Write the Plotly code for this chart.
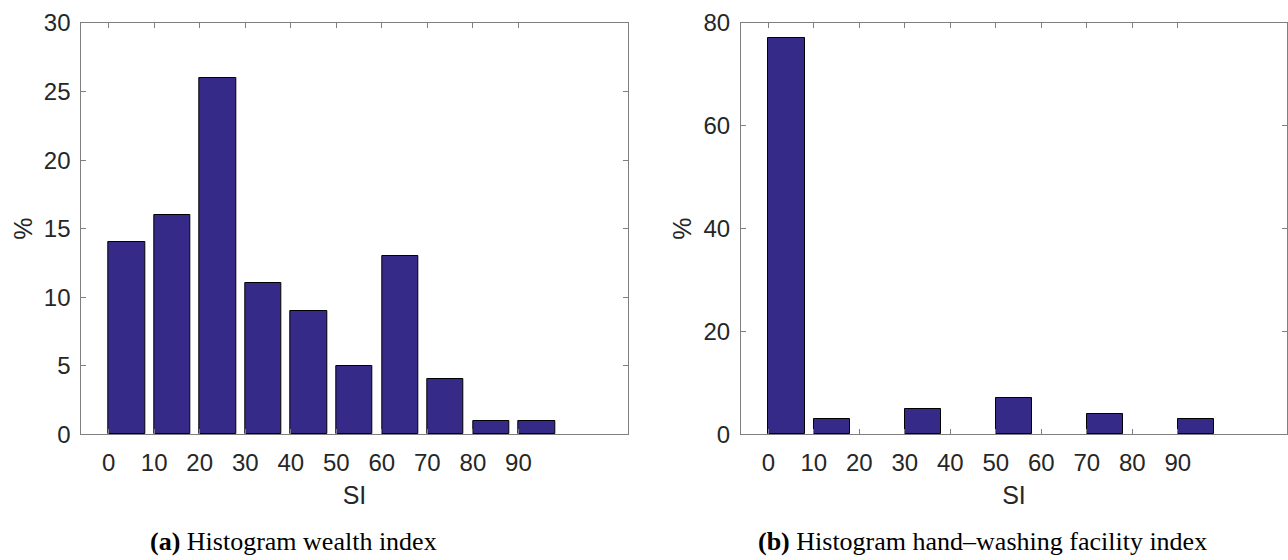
import plotly.graph_objects as go

# ---- data ----
bin_labels = ["0", "10", "20", "30", "40", "50", "60", "70", "80", "90"]
wealth_pct = [14, 16, 26, 11, 9, 5, 13, 4, 1, 1]
handwash_pct = [77, 3, 0, 5, 0, 7, 0, 4, 0, 3]
y_title = "%"
x_title = "SI"
caption_a = ("(a)", "Histogram wealth index")
caption_b = ("(b)", "Histogram hand–washing facility index")

W, H = 1288, 560
BAR_COLOR = "#352A87"
AX_COLOR = "#7f7f7f"
TXT = "#262626"
SANS = "Liberation Sans, Arial, sans-serif"
SERIF = "Liberation Serif, Times New Roman, serif"

positions = list(range(1, len(bin_labels) + 1))
tickpos = [p - 0.4 for p in positions]

def nz(vals):
    # empty bins draw no rectangle (as in the reference)
    return [v if v != 0 else None for v in vals]

fig = go.Figure()
fig.add_trace(go.Bar(x=positions, y=nz(wealth_pct), width=0.8, xaxis="x", yaxis="y",
                     marker=dict(color=BAR_COLOR, line=dict(color="black", width=1)),
                     showlegend=False))
fig.add_trace(go.Bar(x=positions, y=nz(handwash_pct), width=0.8, xaxis="x2", yaxis="y2",
                     marker=dict(color=BAR_COLOR, line=dict(color="black", width=1)),
                     showlegend=False))

def px_x(v):
    return v / W

def px_y(v):
    return 1 - v / H

ydom = [px_y(434.3), px_y(23)]
common_x = dict(range=[0, 12], tickmode="array", tickvals=tickpos, ticktext=bin_labels,
                ticks="inside", ticklen=5, tickcolor=AX_COLOR, showline=True, linecolor=AX_COLOR,
                linewidth=1, mirror="ticks", showgrid=False, zeroline=False, automargin=False,
                tickfont=dict(family=SANS, size=24, color=TXT), ticklabelstandoff=7,
                title=dict(text=x_title, font=dict(family=SANS, size=25, color=TXT), standoff=11))
common_y = dict(ticks="inside", ticklen=5, tickcolor=AX_COLOR, showline=True, linecolor=AX_COLOR,
                linewidth=1, mirror="ticks", showgrid=False, zeroline=False, automargin=False,
                tickfont=dict(family=SANS, size=24, color=TXT), ticklabelstandoff=5,
                title=dict(text=y_title, font=dict(family=SANS, size=25, color=TXT), standoff=4))

fig.update_layout(
    width=W, height=H, margin=dict(l=0, r=0, t=0, b=0),
    paper_bgcolor="white", plot_bgcolor="white", bargap=0,
    xaxis=dict(domain=[px_x(81.3), px_x(627.7)], anchor="y", **common_x),
    yaxis=dict(domain=ydom, anchor="x", range=[0, 30], tickvals=[0, 5, 10, 15, 20, 25, 30], **common_y),
    xaxis2=dict(domain=[px_x(741), px_x(1287)], anchor="y2", **common_x),
    yaxis2=dict(domain=ydom, anchor="x2", range=[0, 80], tickvals=[0, 20, 40, 60, 80], **common_y),
)

for cx, cap in [(293.5, caption_a), (982.5, caption_b)]:
    fig.add_annotation(x=px_x(cx), y=px_y(541), xref="paper", yref="paper", showarrow=False,
                       xanchor="center", yanchor="middle",
                       text=f"<b>{cap[0]}</b> {cap[1]}",
                       font=dict(family=SERIF, size=26, color="black"))

fig.write_html("out.html", config={"displayModeBar": False},
               post_script="document.body.style.margin='0';document.body.style.padding='0';")
